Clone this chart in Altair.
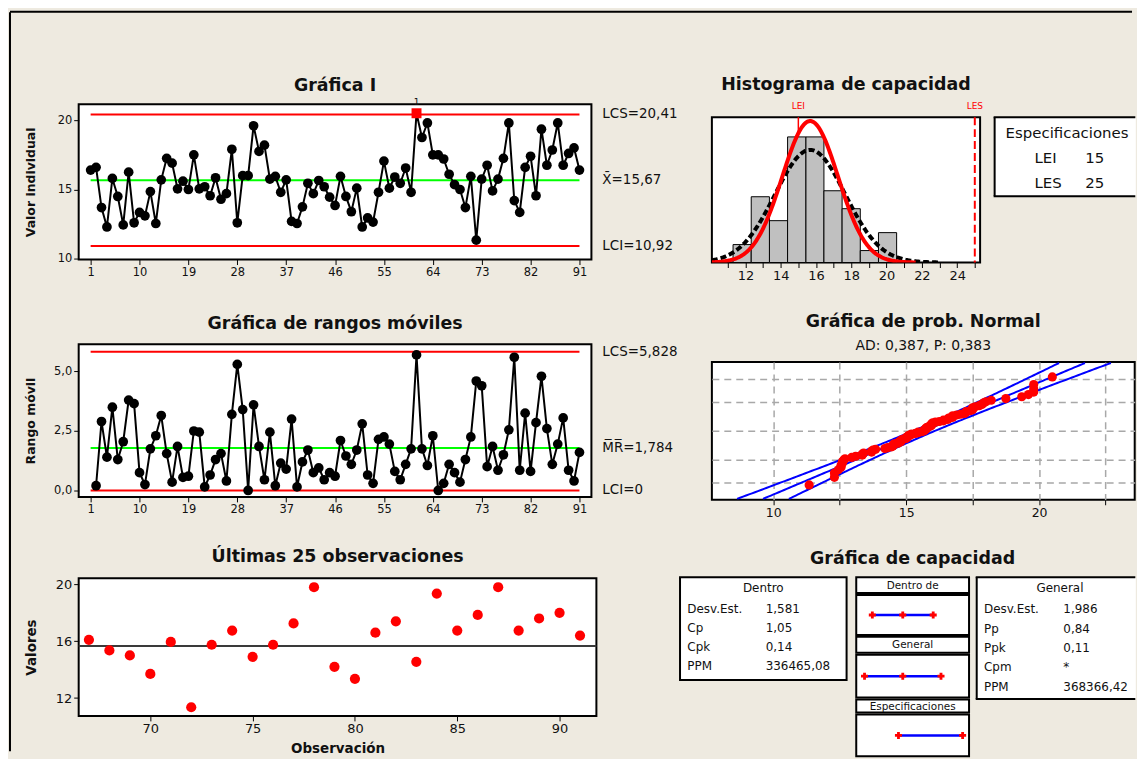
import altair as alt
import pandas as pd
from statistics import NormalDist

FONT = "DejaVu Sans"
BG = "#EEEAE0"
TXT = "#111111"

# ---------------- datos ----------------
obs = list(range(1, 92))
valores = [16.40, 16.60, 13.70, 12.30, 15.80, 14.50, 12.45, 16.25, 12.60, 13.35,
           13.10, 14.85, 12.55, 15.70, 17.25, 16.90, 15.05, 15.60, 15.00, 17.50,
           15.05, 15.20, 14.55, 15.85, 14.30, 14.70, 17.90, 12.60, 16.00, 16.00,
           19.60, 17.75, 18.20, 15.75, 15.95, 14.80, 15.70, 12.70, 12.55, 13.75,
           15.45, 14.70, 15.65, 15.20, 14.45, 13.85, 15.95, 14.50, 13.40, 15.10,
           12.30, 12.95, 12.65, 14.80, 17.05, 15.10, 15.90, 15.45, 16.55, 14.80,
           20.50, 18.75, 19.80, 17.50, 17.50, 17.20, 16.10, 15.35, 15.00, 13.70,
           15.95, 11.35, 15.75, 16.75, 14.90, 15.75, 17.25, 19.80, 14.20, 13.35,
           16.60, 17.40, 14.55, 19.35, 16.75, 17.85, 19.80, 16.75, 17.60, 18.00,
           16.40]
N = len(valores)

LCS_I, MEDIA, LCI_I = 20.41, 15.67, 10.92
LCS_MR, MR_MEDIA, LCI_MR = 5.828, 1.784, 0.0
LEI, LES = 15, 25
DESV_DENTRO, DESV_GENERAL = 1.581, 1.986

etiquetas_I = ["LCS=20,41", "X\u0304=15,67", "LCI=10,92"]
etiquetas_MR = ["LCS=5,828", "M\u0305R\u0305=1,784", "LCI=0"]
ticks_obs = list(range(1, 92, 9))
ticks_I = [10, 15, 20]
ticks_MR = [0, 2.5, 5]
ticks_25 = [12, 16, 20]
ticks_obs25 = [70, 75, 80, 85, 90]
ticks_hist = list(range(11, 26))
ticks_norm = [10, 12.5, 15, 17.5, 20, 22.5]
prob_norm = [0.01, 0.10, 0.50, 0.90, 0.99]
dentro_etq = ["Desv.Est.", "Cp", "Cpk", "PPM"]
dentro_val = ["1,581", "1,05", "0,14", "336465,08"]
general_etq = ["Desv.Est.", "Pp", "Ppk", "Cpm", "PPM"]
general_val = ["1,986", "0,84", "0,11", "*", "368366,42"]
esp_etq = ["LEI", "LES"]
esp_val = [LEI, LES]
cap_paneles = ["Dentro de", "General", "Especificaciones"]
AD_TXT = "AD: 0,387, P: 0,383"

HIST_INICIO, HIST_PASO = 11.3, 1.03

df = pd.DataFrame({"obs": obs, "valor": valores})

FRAME = alt.ViewBackground(stroke="black", strokeWidth=2, fill="white")
OPEN = alt.ViewBackground(stroke="transparent", fill="white")
NOFRAME = alt.ViewBackground(stroke="transparent")
ANCHO_TOTAL = 1129  # canvas width that fits in the window
TOP_Y = 93.3        # canvas y of the first row of panels


def spacer(w, h):
    return (alt.Chart(pd.DataFrame({"s": [0]}))
            .mark_rect(opacity=0)
            .encode(x=alt.value(0), x2=alt.value(w), y=alt.value(0), y2=alt.value(h))
            .properties(width=w, height=h, view=NOFRAME))


def marco_abierto(w, h):
    """frame with top, left and bottom edges (box cut by the window edge)"""
    d = pd.DataFrame({"s": [0]})
    top = alt.Chart(d).mark_rule(color="black", strokeWidth=2).encode(
        x=alt.value(-1), x2=alt.value(w), y=alt.value(0))
    bot = alt.Chart(d).mark_rule(color="black", strokeWidth=2).encode(
        x=alt.value(-1), x2=alt.value(w), y=alt.value(h))
    left = alt.Chart(d).mark_rule(color="black", strokeWidth=2).encode(
        x=alt.value(0), y=alt.value(0), y2=alt.value(h))
    return [top, bot, left]


# ---------------- Gráfica I ----------------
W_L, H_I = 515, 156
sx_obs = alt.Scale(domain=[-1.2, 93.2], nice=False, zero=False)
ax_obs = alt.Axis(values=ticks_obs, title=None, labelFontSize=11.5)
sy_I = alt.Scale(domain=[9.95, 21.15], nice=False, zero=False)
ax_yI = alt.Axis(values=ticks_I, title="Valor individual", titleX=-48, titleBaseline="middle",
                 titleFontSize=12.5, labelFontSize=11.5)
X_obs = alt.X("obs:Q", scale=sx_obs, axis=ax_obs)

lim_I = pd.DataFrame({"y": [LCS_I, MEDIA, LCI_I], "t": etiquetas_I})
Y_limI = alt.Y("y:Q", scale=sy_I, axis=ax_yI)
Y_valI = alt.Y("valor:Q", scale=sy_I, axis=ax_yI)

I_rojo = alt.Chart(lim_I).transform_filter(f"datum.y != {MEDIA}").mark_rule(
    color="red", strokeWidth=2).encode(
    x=alt.X(datum=obs[0], scale=sx_obs, axis=ax_obs), x2=alt.X2(datum=obs[-1]), y=Y_limI)
I_verde = alt.Chart(lim_I).transform_filter(f"datum.y == {MEDIA}").mark_rule(
    color="#00FF00", strokeWidth=2).encode(
    x=alt.X(datum=obs[0], scale=sx_obs, axis=ax_obs), x2=alt.X2(datum=obs[-1]), y=Y_limI)
I_linea = alt.Chart(df).mark_line(color="black", strokeWidth=2).encode(x=X_obs, y=Y_valI)
I_pts = alt.Chart(df).transform_filter(f"datum.valor <= {LCS_I}").mark_circle(
    color="black", size=95, opacity=1).encode(x=X_obs, y=Y_valI)
I_fuera = alt.Chart(df).transform_filter(f"datum.valor > {LCS_I}").mark_square(
    color="red", size=100, opacity=1).encode(x=X_obs, y=Y_valI)
I_num = alt.Chart(df).transform_filter(f"datum.valor > {LCS_I}").mark_text(
    text="1", dy=-11, fontSize=9, font=FONT, color=TXT).encode(x=X_obs, y=Y_valI)
I_txt = alt.Chart(lim_I).mark_text(align="left", baseline="middle", fontSize=13.5, font=FONT,
                                   color=TXT).encode(x=alt.value(W_L + 11), y=Y_limI, text="t:N")
chart_I = alt.layer(I_rojo, I_verde, I_linea, I_pts, I_fuera, I_num, I_txt).properties(
    width=W_L, height=H_I, title=alt.Title("Gráfica I", offset=4), view=FRAME)

# ---------------- Gráfica MR ----------------
H_MR = 153.4
sy_MR = alt.Scale(domain=[-0.27, 6.15], nice=False, zero=False)
ax_yMR = alt.Axis(values=ticks_MR, title="Rango móvil", titleX=-48, titleBaseline="middle",
                  titleFontSize=12.5, labelFontSize=11.5,
                  labelExpr="replace(format(datum.value, '.1f'), '.', ',')")
lim_MR = pd.DataFrame({"y": [LCS_MR, MR_MEDIA, LCI_MR], "t": etiquetas_MR})
Y_limMR = alt.Y("y:Q", scale=sy_MR, axis=ax_yMR)
Y_mr = alt.Y("mr:Q", scale=sy_MR, axis=ax_yMR)
mr_base = (alt.Chart(df)
           .transform_window(prev="lag(valor)", sort=[alt.SortField("obs")])
           .transform_filter("isValid(datum.prev)")
           .transform_calculate(mr="abs(datum.valor - datum.prev)"))
MR_rojo = alt.Chart(lim_MR).transform_filter(f"datum.y != {MR_MEDIA}").mark_rule(
    color="red", strokeWidth=2).encode(
    x=alt.X(datum=obs[0], scale=sx_obs, axis=ax_obs), x2=alt.X2(datum=obs[-1]), y=Y_limMR)
MR_verde = alt.Chart(lim_MR).transform_filter(f"datum.y == {MR_MEDIA}").mark_rule(
    color="#00FF00", strokeWidth=2).encode(
    x=alt.X(datum=obs[0], scale=sx_obs, axis=ax_obs), x2=alt.X2(datum=obs[-1]), y=Y_limMR)
MR_linea = mr_base.mark_line(color="black", strokeWidth=2).encode(x=X_obs, y=Y_mr)
MR_pts = mr_base.mark_circle(color="black", size=95, opacity=1).encode(x=X_obs, y=Y_mr)
MR_txt = alt.Chart(lim_MR).mark_text(align="left", baseline="middle", fontSize=13.5, font=FONT,
                                     color=TXT).encode(x=alt.value(W_L + 11), y=Y_limMR, text="t:N")
chart_MR = alt.layer(MR_rojo, MR_verde, MR_linea, MR_pts, MR_txt).properties(
    width=W_L, height=H_MR, title=alt.Title("Gráfica de rangos móviles", offset=12), view=FRAME)

# ---------------- Últimas 25 ----------------
W_25, H_25 = 520, 138.4
sx25 = alt.Scale(domain=[66.5, 91.8], nice=False, zero=False)
sy25 = alt.Scale(domain=[10.74, 20.44], nice=False, zero=False)
ax_x25 = alt.Axis(values=ticks_obs25, title="Observación", titleY=32.5, titleBaseline="middle",
                  titleFontSize=13.5, labelFontSize=13)
ax_y25 = alt.Axis(values=ticks_25, title="Valores", titleX=-47.4, titleBaseline="middle",
                  titleFontSize=13.5, labelFontSize=13)
L_media = alt.Chart(pd.DataFrame({"y": [MEDIA]})).mark_rule(color="#3A3A3A", strokeWidth=2).encode(
    y=alt.Y("y:Q", scale=sy25, axis=ax_y25))
L_pts = alt.Chart(df).transform_filter(f"datum.obs > {N - 25}").mark_circle(
    color="red", size=105, opacity=1).encode(
    x=alt.X("obs:Q", scale=sx25, axis=ax_x25), y=alt.Y("valor:Q", scale=sy25, axis=ax_y25))
chart_25 = alt.layer(L_media, L_pts).properties(
    width=W_25, height=H_25, title=alt.Title("Últimas 25 observaciones", offset=13), view=FRAME)

# ---------------- Histograma ----------------
W_H, H_H = 269.4, 146
sxH = alt.Scale(domain=[10.1, 25.3], nice=False, zero=False)
syH = alt.Scale(domain=[0, 24.3], nice=False)
ax_xH = alt.Axis(values=ticks_hist, labelExpr="datum.value % 2 == 0 ? datum.label : ''",
                 title=None, labelFontSize=13)
esp_df = pd.DataFrame({"x": esp_val, "t": esp_etq, "v": [str(v) for v in esp_val], "fila": [0, 1]})

H_lei = alt.Chart(esp_df).transform_filter("datum.t == 'LEI'").mark_rule(
    color="red", strokeWidth=1.5).encode(x=alt.X("x:Q", scale=sxH, axis=ax_xH))
H_bar = (alt.Chart(df)
         .transform_bin(["b0", "b1"], "valor",
                        bin=alt.Bin(extent=[HIST_INICIO, 20.6], step=HIST_PASO, nice=False))
         .transform_aggregate(n="count()", groupby=["b0", "b1"])
         .mark_rect(fill="#C0C0C0", stroke="black", strokeWidth=1)
         .encode(x=alt.X("b0:Q", scale=sxH, axis=ax_xH), x2="b1:Q",
                 y=alt.Y("n:Q", scale=syH, axis=None), y2=alt.Y2(datum=0)))
H_gen = (alt.Chart(alt.sequence(10.1, 23.05, 0.05, as_="x"))
         .transform_calculate(y=f"{N}*{HIST_PASO}*densityNormal(datum.x, {MEDIA}, {DESV_GENERAL})")
         .mark_line(color="black", strokeWidth=4, strokeDash=[6, 3], clip=True)
         .encode(x=alt.X("x:Q", scale=sxH, axis=ax_xH), y=alt.Y("y:Q", scale=syH, axis=None)))
H_den = (alt.Chart(alt.sequence(10.1, 21.7, 0.05, as_="x"))
         .transform_calculate(y=f"{N}*{HIST_PASO}*densityNormal(datum.x, {MEDIA}, {DESV_DENTRO})")
         .mark_line(color="red", strokeWidth=4, clip=True)
         .encode(x=alt.X("x:Q", scale=sxH, axis=ax_xH), y=alt.Y("y:Q", scale=syH, axis=None)))
H_les = alt.Chart(esp_df).transform_filter("datum.t == 'LES'").mark_rule(
    color="red", strokeWidth=2, strokeDash=[8, 4]).encode(x=alt.X("x:Q", scale=sxH, axis=ax_xH))
H_lab = alt.Chart(esp_df).mark_text(color="red", fontSize=9, font=FONT, baseline="middle").encode(
    x=alt.X("x:Q", scale=sxH, axis=ax_xH), y=alt.value(-11.5), text="t:N")
chart_hist = alt.layer(H_lei, H_bar, H_gen, H_den, H_les, H_lab).properties(
    width=W_H, height=H_H, title=alt.Title("Histograma de capacidad", offset=8), view=FRAME)

# caja de especificaciones (cortada por el borde de la ventana)
X_ESP = 673.7 + 31.3 + W_H + 13.3
W_E, H_E = ANCHO_TOTAL - X_ESP, 79.3
sy_E = alt.Scale(domain=[0, 1], range=[41, 65.7])
E_tit = alt.Chart(pd.DataFrame({"t": ["Especificaciones"]})).mark_text(
    align="left", baseline="middle", fontSize=15, font=FONT, color=TXT).encode(
    x=alt.value(11), y=alt.value(16.3), text="t:N")
E_k = alt.Chart(esp_df).mark_text(align="left", baseline="middle", fontSize=15, font=FONT,
                                  color=TXT).encode(
    x=alt.value(40), y=alt.Y("fila:Q", scale=sy_E, axis=None), text="t:N")
E_v = alt.Chart(esp_df).mark_text(align="left", baseline="middle", fontSize=15, font=FONT,
                                  color=TXT).encode(
    x=alt.value(91), y=alt.Y("fila:Q", scale=sy_E, axis=None), text="v:N")
caja_esp = alt.layer(*marco_abierto(W_E, H_E), E_tit, E_k, E_v).properties(
    width=W_E, height=H_E, view=OPEN)

# ---------------- Probabilidad normal ----------------
W_N, H_N = 424.7, 138.3
z_grid = [NormalDist().inv_cdf(p) for p in prob_norm]
sxN = alt.Scale(domain=[7.69, 23.6], nice=False, zero=False)
syN = alt.Scale(domain=[-3.09, 3.09], nice=False, zero=False)
ax_xN = alt.Axis(values=ticks_norm, labelExpr="datum.value % 5 == 0 ? datum.label : ''",
                 grid=True, gridDash=[7, 5], gridColor="#A8A8A8", gridWidth=1.5,
                 title=None, labelFontSize=12.5)
ax_yN = alt.Axis(values=z_grid, labels=False, ticks=False, grid=True, gridDash=[7, 5],
                 gridColor="#A8A8A8", gridWidth=1.5, title=None)
N_bandas = (alt.Chart(alt.sequence(-3.05, 3.06, 0.05, as_="z"))
            .transform_calculate(
                c=f"{MEDIA} + {DESV_GENERAL}*datum.z",
                se=f"{DESV_GENERAL}*sqrt(1/{N} + datum.z*datum.z/(2*({N}-1)))")
            .transform_calculate(lo="datum.c - 1.96*datum.se", hi="datum.c + 1.96*datum.se")
            .transform_fold(["c", "lo", "hi"], as_=["serie", "x"])
            .mark_line(color="blue", strokeWidth=2, clip=True)
            .encode(x=alt.X("x:Q", scale=sxN, axis=ax_xN), y=alt.Y("z:Q", scale=syN, axis=ax_yN),
                    detail="serie:N", order="z:Q"))
N_pts = (alt.Chart(df)
         .transform_window(rango="row_number()", sort=[alt.SortField("valor")])
         .transform_calculate(z=f"quantileNormal((datum.rango - 0.3)/({N} + 0.4))")
         .mark_circle(color="red", size=85, opacity=1)
         .encode(x=alt.X("valor:Q", scale=sxN, axis=ax_xN), y=alt.Y("z:Q", scale=syN, axis=ax_yN)))
chart_norm = alt.layer(N_bandas, N_pts).properties(
    width=W_N, height=H_N,
    title=alt.Title("Gráfica de prob. Normal", subtitle=AD_TXT, subtitleFont=FONT,
                    subtitleFontSize=14, subtitleColor=TXT, subtitlePadding=9, offset=9),
    view=FRAME)

# ---------------- Gráfica de capacidad ----------------
W_M = 113.3
sxC = alt.Scale(domain=[8.42, 26.0], nice=False, zero=False)
cap_lo = [MEDIA - 3 * DESV_DENTRO, MEDIA - 3 * DESV_GENERAL, LEI]
cap_hi = [MEDIA + 3 * DESV_DENTRO, MEDIA + 3 * DESV_GENERAL, LES]
cap_df = pd.DataFrame({"panel": cap_paneles, "lo": cap_lo, "hi": cap_hi})
marcas_df = pd.DataFrame({
    "panel": [cap_paneles[0]] * 3 + [cap_paneles[1]] * 3 + [cap_paneles[2]] * 2,
    "x": [cap_lo[0], MEDIA, cap_hi[0], cap_lo[1], MEDIA, cap_hi[1], cap_lo[2], cap_hi[2]],
})


def cabecera(texto, h, titulo=None):
    c = alt.Chart(pd.DataFrame({"t": [texto]})).mark_text(
        fontSize=10.5, font=FONT, color=TXT, baseline="middle").encode(
        x=alt.value(W_M / 2), y=alt.value(h / 2 + 0.5), text="t:N")
    if titulo:
        return c.properties(width=W_M, height=h, view=FRAME, title=alt.Title(titulo, offset=10))
    return c.properties(width=W_M, height=h, view=FRAME)


def panel_cap(i, h):
    p = cap_paneles[i]
    linea = alt.Chart(cap_df).transform_filter(f"datum.panel == '{p}'").mark_rule(
        color="blue", strokeWidth=2.5).encode(
        x=alt.X("lo:Q", scale=sxC, axis=None), x2="hi:Q", y=alt.value(h / 2))
    marcas = alt.Chart(marcas_df).transform_filter(f"datum.panel == '{p}'").mark_point(
        shape="cross", filled=True, color="red", size=50, opacity=1).encode(
        x=alt.X("x:Q", scale=sxC, axis=None), y=alt.value(h / 2))
    return alt.layer(linea, marcas).properties(width=W_M, height=h, view=FRAME)


def caja(titulo, etq, val, w, h, y0, y1, xv, abierta=False):
    filas = pd.DataFrame({"fila": list(range(len(etq))), "k": etq, "v": val})
    sy = alt.Scale(domain=[0, len(etq) - 1], range=[y0, y1])
    head = alt.Chart(pd.DataFrame({"t": [titulo]})).mark_text(
        fontSize=12, font=FONT, color=TXT, baseline="middle").encode(
        x=alt.value(83.6), y=alt.value(11.3), text="t:N")
    ks = alt.Chart(filas).mark_text(align="left", baseline="middle", fontSize=12, font=FONT,
                                    color=TXT).encode(
        x=alt.value(7.3), y=alt.Y("fila:Q", scale=sy, axis=None), text="k:N")
    vs = alt.Chart(filas).mark_text(align="left", baseline="middle", fontSize=12, font=FONT,
                                    color=TXT).encode(
        x=alt.value(xv), y=alt.Y("fila:Q", scale=sy, axis=None), text="v:N")
    if abierta:
        return alt.layer(*marco_abierto(w, h), head, ks, vs).properties(width=w, height=h, view=OPEN)
    return alt.layer(head, ks, vs).properties(width=w, height=h, view=FRAME)


X_GEN = 673.7 + 167.3 + 8.4 + 120.3
caja_dentro = caja("Dentro", dentro_etq, dentro_val, 167.3, 103.3, 32.3, 89.3, 86)
caja_general = caja("General", general_etq, general_val, ANCHO_TOTAL - X_GEN, 122.3, 32.3, 110, 87,
                    abierta=True)

medio = alt.vconcat(
    cabecera("Dentro de", 16, "Gráfica de capacidad"), panel_cap(0, 40),
    cabecera("General", 16), panel_cap(1, 43),
    cabecera("Especificaciones", 13), panel_cap(2, 42),
    spacing=2, bounds="flush")

# ---------------- composición ----------------
borde = pd.DataFrame({"s": [0]})
spacer_top = alt.layer(
    spacer(1, TOP_Y),
    alt.Chart(borde).mark_rule(color="black", strokeWidth=2).encode(
        x=alt.value(1), x2=alt.value(ANCHO_TOTAL - 1), y=alt.value(1)),
).properties(width=1, height=TOP_Y, view=NOFRAME)
spacer_left = alt.layer(
    spacer(70, 1),
    alt.Chart(borde).mark_rule(color="black", strokeWidth=2).encode(
        x=alt.value(1), y=alt.value(1 - TOP_Y), y2=alt.value(650)),
).properties(width=70, height=1, view=NOFRAME)

izq = alt.vconcat(chart_I, spacer(1, 84.3), chart_MR, spacer(1, 80.3), chart_25,
                  spacing=0, bounds="flush")
fila_hist = alt.hconcat(spacer(31.3, 1), chart_hist, spacer(13.3, 1), caja_esp,
                        spacing=0, bounds="flush")
fila_norm = alt.hconcat(spacer(31.3, 1), chart_norm, spacing=0, bounds="flush")
fila_cap = alt.hconcat(caja_dentro, spacer(8.4, 1), medio, spacer(120.3, 1), caja_general,
                       spacing=0, bounds="flush")
der = alt.vconcat(spacer(1, 12.4), fila_hist, spacer(1, 245.3), fila_norm, spacer(1, 215.7),
                  fila_cap, spacing=0, bounds="flush")
fila = alt.hconcat(spacer_left, izq, spacer(603.7, 1), der, spacing=0, bounds="flush")

chart = (alt.vconcat(spacer_top, fila, spacing=0, bounds="flush")
         .properties(padding=0)
         .configure(background=BG)
         .configure_view(stroke="transparent")
         .configure_axis(domain=False, grid=False, labelFont=FONT, titleFont=FONT,
                         labelColor=TXT, titleColor=TXT, tickColor="black", tickSize=5,
                         tickWidth=1, labelPadding=2, titleFontWeight="bold")
         .configure_title(font=FONT, fontSize=17.5, fontWeight="bold", color=TXT,
                          anchor="middle", frame="group"))

chart.save("out.html", embed_options={"renderer": "svg", "actions": False})
